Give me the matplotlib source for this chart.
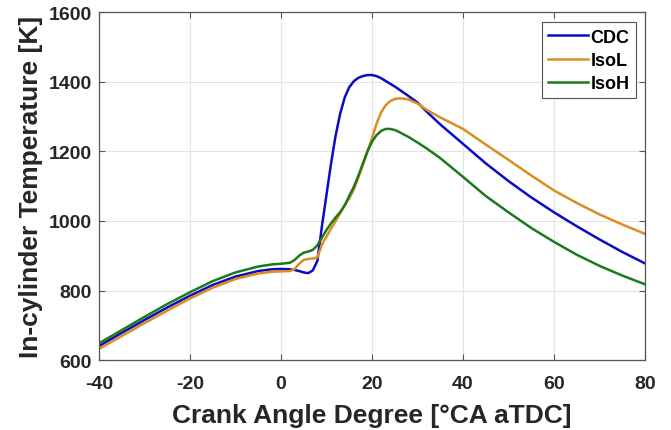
import matplotlib
matplotlib.use("Agg")
import matplotlib.pyplot as plt

# crank angle [deg aTDC]
angle = [-40, -35, -30, -25, -20, -15, -10, -5, -2, 0, 2, 3, 4, 5, 6, 7, 8, 9,
         10, 11, 12, 13, 14, 15, 16, 17, 18, 19, 20, 21, 22, 23, 24, 25, 26,
         27, 28, 30, 32, 35, 40, 45, 50, 55, 60, 65, 70, 75, 80]

# in-cylinder temperature [K]
cdc = [640, 678, 715, 751, 785, 816, 840, 856, 861, 862, 861, 859, 856, 852,
       850, 858, 885, 985, 1075, 1165, 1245, 1308, 1355, 1385, 1402, 1412,
       1417, 1420, 1420, 1417, 1411, 1403, 1395, 1387, 1378, 1369, 1360,
       1341, 1315, 1278, 1222, 1166, 1115, 1068, 1025, 985, 947, 911, 878]
isol = [632, 669, 706, 742, 777, 808, 833, 849, 854, 855, 856, 862, 877, 888,
        891, 892, 895, 932, 955, 978, 1000, 1022, 1045, 1065, 1090, 1125,
        1162, 1200, 1238, 1280, 1312, 1333, 1345, 1351, 1353, 1352, 1350,
        1338, 1320, 1298, 1265, 1220, 1176, 1131, 1088, 1052, 1019, 990, 963]
isoh = [648, 686, 724, 761, 795, 827, 852, 869, 875, 877, 880, 888, 900, 909,
        912, 917, 930, 952, 974, 993, 1010, 1025, 1045, 1072, 1098, 1130,
        1165, 1200, 1228, 1247, 1259, 1265, 1265, 1262, 1256, 1249, 1242,
        1226, 1209, 1181, 1127, 1072, 1025, 980, 940, 903, 871, 843, 818]

series = [("CDC", cdc, "#0b0bc6"),
          ("IsoL", isol, "#dc8d22"),
          ("IsoH", isoh, "#1c7a1c")]

plt.rcParams["font.family"] = ["Liberation Sans", "DejaVu Sans"]
plt.rcParams["font.weight"] = "bold"
plt.rcParams["axes.unicode_minus"] = False

fig = plt.figure(figsize=(6.71, 4.31), dpi=100)
ax = fig.add_axes([0.1475, 0.1624, 0.8137, 0.8063])

for name, temp, color in series:
    ax.plot(angle, temp, color=color, lw=1.8, label=name)

ax.set_xlim(-40, 80)
ax.set_ylim(600, 1600)
ax.set_xticks([-40, -20, 0, 20, 40, 60, 80])
ax.set_yticks([600, 800, 1000, 1200, 1400, 1600])
ax.grid(True, color="#e4e4e4", lw=0.8)
ax.set_axisbelow(True)

for sp in ax.spines.values():
    sp.set_color("#555555")
    sp.set_linewidth(0.9)
ax.tick_params(direction="in", top=True, right=True, length=4, width=0.8,
               color="#555555", labelsize=14, labelcolor="#262626")
ax.tick_params(axis="x", pad=11)
ax.tick_params(axis="y", pad=5)
for lab in ax.get_xticklabels() + ax.get_yticklabels():
    lab.set_fontweight("bold")

ax.set_xlabel("Crank Angle Degree [°CA aTDC]", fontsize=19,
              fontweight="bold", color="#262626", labelpad=8)
ax.set_ylabel("In-cylinder Temperature [K]", fontsize=19,
              fontweight="bold", color="#262626", labelpad=4)

leg = ax.legend(loc="upper right", bbox_to_anchor=(0.983, 0.972),
                prop={"weight": "bold", "size": 13}, fancybox=False,
                framealpha=1, edgecolor="#555555", handlelength=2.2,
                handletextpad=0.15, borderpad=0.35, labelspacing=0.35,
                borderaxespad=0)
leg.get_frame().set_linewidth(0.8)

fig.savefig("out.png", dpi=100)
